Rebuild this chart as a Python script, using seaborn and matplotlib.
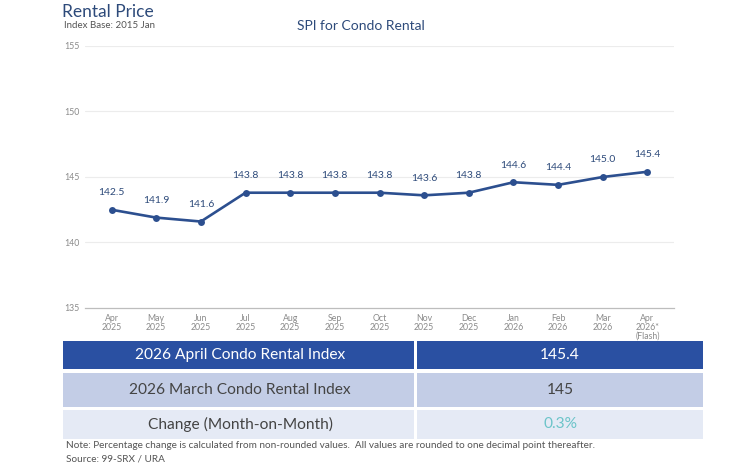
import pandas as pd
import seaborn as sns
import matplotlib.pyplot as plt
from matplotlib.patches import Rectangle

# Data
months = ['Apr\n2025', 'May\n2025', 'Jun\n2025', 'Jul\n2025', 'Aug\n2025', 'Sep\n2025', 'Oct\n2025',
          'Nov\n2025', 'Dec\n2025', 'Jan\n2026', 'Feb\n2026', 'Mar\n2026', 'Apr\n2026*\n(Flash)']
spi = [142.5, 141.9, 141.6, 143.8, 143.8, 143.8, 143.8, 143.6, 143.8, 144.6, 144.4, 145.0, 145.4]
y_ticks = [135, 140, 145, 150, 155]

table_labels = ['2026 April Condo Rental Index', '2026 March Condo Rental Index', 'Change (Month-on-Month)']
table_values = ['145.4', '145', '0.3%']

df = pd.DataFrame({'x': range(len(months)), 'spi': spi})

sns.set_theme(style='white')
plt.rcParams['font.family'] = ['Lato', 'DejaVu Sans']

navy = '#2c4f8f'
title_col = '#2d4a7a'
grey = '#8a8a8a'

fig = plt.figure(figsize=(7.5, 4.67), dpi=100)
ax = fig.add_axes([0.113, 0.3405, 0.786, 0.561])

sns.lineplot(data=df, x='x', y='spi', ax=ax, color=navy, linewidth=1.9,
             marker='o', markersize=5, markeredgewidth=0, markerfacecolor=navy)

for i, v in enumerate(spi):
    ax.annotate(f'{v:.1f}', (i, v), xytext=(0, 9), textcoords='offset points',
                ha='center', va='bottom', fontsize=7.5, color=title_col)

ax.set_xlim(-0.6, 12.6)
ax.set_ylim(135, 155)
ax.set_yticks(y_ticks)
ax.set_yticklabels([str(t) for t in y_ticks], fontsize=6.3, color=grey)
ax.set_xticks(range(len(months)))
ax.set_xticklabels(months, fontsize=6.3, color=grey, linespacing=1.0)
ax.tick_params(axis='both', length=0, pad=4)
ax.set_xlabel('')
ax.set_ylabel('')
for t in y_ticks[1:]:
    ax.axhline(t, color='#ececec', linewidth=0.8, zorder=0)
for s in ['top', 'right', 'left']:
    ax.spines[s].set_visible(False)
ax.spines['bottom'].set_color('#bdbdbd')
ax.spines['bottom'].set_linewidth(0.9)

fig.text(62 / 750, 1 - 12 / 467, 'Rental Price', fontsize=12.5, color=title_col, va='center', ha='left')
fig.text(64 / 750, 1 - 26 / 467, 'Index Base: 2015 Jan', fontsize=7, color='#555555', va='center', ha='left')
fig.text(361 / 750, 1 - 26 / 467, 'SPI for Condo Rental', fontsize=10, color=title_col, va='center', ha='center')

# Summary table under the chart
tab = fig.add_axes([0, 0, 1, 1], zorder=-1)
tab.set_xlim(0, 750)
tab.set_ylim(467, 0)
tab.axis('off')
rows_y = [(341, 369), (373, 407), (410, 439)]
fills = ['#2a50a2', '#c3cde6', '#e5eaf5']
text_cols = ['white', '#444444', '#444444']
val_cols = ['white', '#444444', '#6cc4c9']
for (y0, y1), fc, tc, vc, lab, val in zip(rows_y, fills, text_cols, val_cols, table_labels, table_values):
    tab.add_patch(Rectangle((63, y0), 351, y1 - y0, facecolor=fc, edgecolor='none'))
    tab.add_patch(Rectangle((417, y0), 286, y1 - y0, facecolor=fc, edgecolor='none'))
    yc = (y0 + y1) / 2
    tab.text(240, yc, lab, ha='center', va='center', fontsize=11.2, color=tc)
    tab.text(560, yc, val, ha='center', va='center', fontsize=11.2, color=vc)

fig.text(66 / 750, 1 - 446 / 467,
         'Note: Percentage change is calculated from non-rounded values.  All values are rounded to one decimal point thereafter.',
         fontsize=7.2, color='#555555', va='center', ha='left')
fig.text(66 / 750, 1 - 459 / 467, 'Source: 99-SRX / URA', fontsize=7.2, color='#555555', va='center', ha='left')

fig.savefig('out.png', dpi=100)
